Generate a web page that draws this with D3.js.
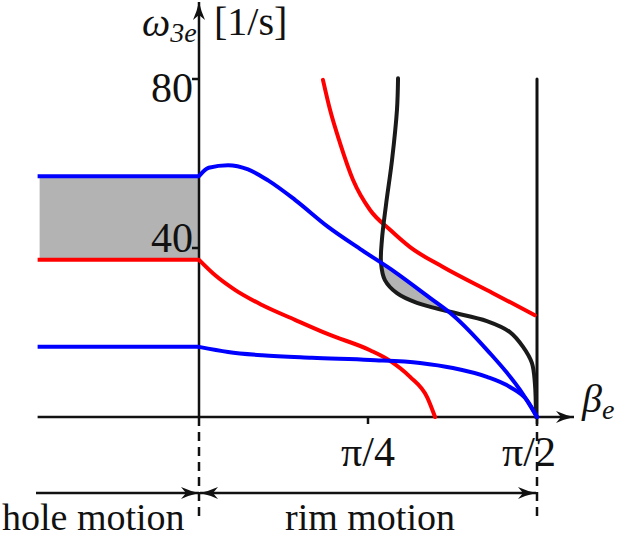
<!DOCTYPE html>
<html>
<head>
<meta charset="utf-8">
<script src="https://cdn.jsdelivr.net/npm/d3@7"></script>
<style>
  body { margin: 0; background: #fff; }
  text { font-family: "Liberation Serif", "DejaVu Serif", serif; fill: #111; }
</style>
</head>
<body>
<div id="chart"></div>
<script>
// hole motion: constant levels for beta < 0
var holeBeta = [-0.75, 0];
var holeBlueHigh = 57.0;
var holeRed = 37.2;
var holeBlueLow = 16.6;

// rim motion curves [beta, omega]
var blueHigh = [[0, 57.0], [0.045, 59.0], [0.135, 59.6], [0.228, 58.6], [0.321, 56.0], [0.446, 51.4],
    [0.600, 45.0], [0.757, 39.5], [0.911, 34.3], [1.073, 28.2], [1.180, 24.1], [1.338, 15.9],
    [1.492, 6.4], [Math.PI / 2, 0]];
var redHigh = [[0.576, 79.8], [0.609, 72.7], [0.655, 64.9], [0.716, 56.1], [0.795, 49.0], [0.888, 44.3],
    [0.981, 40.2], [1.134, 35.5], [1.366, 29.3], [1.561, 24.1]];
var redLow = [[0, 37.2], [0.074, 33.6], [0.167, 30.1], [0.293, 26.5], [0.446, 23.0], [0.600, 19.6],
    [0.795, 15.8], [0.888, 13.3], [0.981, 9.5], [1.060, 4.7], [1.097, 0]];
var blueLow = [[0, 16.6], [0.135, 15.4], [0.293, 14.6], [0.525, 14.0], [0.795, 13.5], [1.027, 12.8],
    [1.180, 11.6], [1.338, 9.5], [1.445, 7.1], [1.524, 4.0], [Math.PI / 2, 0]];
var blackCurve = [[0.925, 80.2], [0.920, 72.7], [0.897, 60.8], [0.869, 50.2], [0.850, 41.9], [0.846, 36.4],
    [0.864, 32.4], [0.920, 29.3], [1.013, 27.0], [1.166, 24.9], [1.338, 22.7], [1.445, 20.1],
    [1.506, 16.6], [1.547, 12.8], [1.561, 8.0], [1.566, 0]];
// grey pocket between black curve and blue curve
var pocketBlack = [[0.846, 36.6], [0.864, 32.4], [0.920, 29.3], [1.013, 27.0], [1.17, 24.7]];
var pocketBlue = [[1.17, 24.7], [1.073, 28.2], [0.911, 34.3], [0.846, 36.6]];
var rimLimit = [[Math.PI / 2, 0], [Math.PI / 2, 80]];

var yTicks = [40, 80];
var xTicks = [Math.PI / 4, Math.PI / 2];
var xTickLabels = ['π/4', 'π/2'];

var width = 621, height = 540;
var x = d3.scaleLinear().domain([0, Math.PI / 2]).range([199, 537]);
var y = d3.scaleLinear().domain([0, 80]).range([417, 79]);

var svg = d3.select('#chart').append('svg')
    .attr('width', width)
    .attr('height', height);

var defs = svg.append('defs');
defs.append('marker')
    .attr('id', 'head')
    .attr('viewBox', '0 -6 18 12')
    .attr('refX', 18).attr('refY', 0)
    .attr('markerWidth', 18).attr('markerHeight', 12)
    .attr('markerUnits', 'userSpaceOnUse')
    .attr('orient', 'auto-start-reverse')
    .append('path')
    .attr('d', 'M0,-6 Q9,-2 18,0 Q9,2 0,6 L5,0 Z')
    .attr('fill', '#111');

var smooth = d3.line().x(d => x(d[0])).y(d => y(d[1])).curve(d3.curveMonotoneX);
var line = d3.line().x(d => x(d[0])).y(d => y(d[1])).curve(d3.curveCatmullRom.alpha(0.5));
var flat = d3.line().x(d => x(d[0])).y(d => y(d[1]));

// grey bands
svg.append('rect')
    .attr('x', x(holeBeta[0]) + 2)
    .attr('y', y(holeBlueHigh))
    .attr('width', x(holeBeta[1]) - x(holeBeta[0]) - 2)
    .attr('height', y(holeRed) - y(holeBlueHigh))
    .attr('fill', '#b3b3b3');

svg.append('path')
    .attr('d', line(pocketBlack) + flat(pocketBlue).replace(/^M/, 'L') + 'Z')
    .attr('fill', '#b3b3b3');

// axes
var ax = svg.append('g').attr('stroke', '#111').attr('stroke-width', 2.5).attr('fill', 'none');
ax.append('line')
    .attr('x1', x(holeBeta[0])).attr('x2', 574)
    .attr('y1', y(0)).attr('y2', y(0))
    .attr('marker-end', 'url(#head)');
ax.append('line')
    .attr('x1', x(0)).attr('x2', x(0))
    .attr('y1', y(0)).attr('y2', 2)
    .attr('marker-end', 'url(#head)');

// dashed separators
ax.selectAll('.sep')
    .data([0, Math.PI / 2])
    .enter().append('line')
    .attr('x1', d => x(d)).attr('x2', d => x(d))
    .attr('y1', y(0)).attr('y2', 520)
    .attr('stroke-dasharray', '9,6');

// ticks
ax.selectAll('.yt')
    .data(yTicks)
    .enter().append('line')
    .attr('x1', x(0) - 7).attr('x2', x(0))
    .attr('y1', d => y(d)).attr('y2', d => y(d));
ax.selectAll('.xt')
    .data(xTicks)
    .enter().append('line')
    .attr('x1', d => x(d)).attr('x2', d => x(d))
    .attr('y1', y(0)).attr('y2', y(0) + 7);

svg.selectAll('.ytl')
    .data(yTicks)
    .enter().append('text')
    .attr('x', x(0) - 6)
    .attr('y', d => d === 80 ? y(d) + 23 : y(d) + 4)
    .attr('text-anchor', 'end')
    .attr('font-size', 42)
    .text(d => d);

svg.selectAll('.xtl')
    .data(xTicks)
    .enter().append('text')
    .attr('x', (d, i) => x(d) - (i === 1 ? 8 : 0))
    .attr('y', y(0) + 49)
    .attr('text-anchor', 'middle')
    .attr('font-size', 42)
    .text((d, i) => xTickLabels[i]);

// axis titles
var yt = svg.append('text').attr('x', 142).attr('y', 36).attr('font-size', 40);
yt.append('tspan').attr('font-style', 'italic').text('ω');
yt.append('tspan').attr('font-style', 'italic').attr('font-size', 28).attr('dy', 6).text('3e');
svg.append('text').attr('x', 214).attr('y', 35).attr('font-size', 40).text('[1/s]');

var xt = svg.append('text').attr('x', 582).attr('y', 412).attr('font-size', 40);
xt.append('tspan').attr('font-style', 'italic').text('β');
xt.append('tspan').attr('font-style', 'italic').attr('font-size', 28).attr('dy', 7).text('e');

// curves
var curves = svg.append('g').attr('fill', 'none').attr('stroke-width', 4).attr('stroke-linecap', 'round');
[[holeBlueHigh, '#0000ff'], [holeRed, '#ff0000'], [holeBlueLow, '#0000ff']].forEach(function (h) {
    curves.append('path')
        .attr('d', flat(holeBeta.map(b => [b, h[0]])))
        .attr('stroke', h[1])
        .attr('stroke-linecap', 'butt');
});
curves.append('path').attr('d', flat(rimLimit)).attr('stroke', '#111').attr('stroke-width', 3);
curves.append('path').attr('d', smooth(redLow)).attr('stroke', '#ff0000');
curves.append('path').attr('d', smooth(redHigh)).attr('stroke', '#ff0000');
curves.append('path').attr('d', line(blackCurve)).attr('stroke', '#1a1a1a');
curves.append('path').attr('d', smooth(blueLow)).attr('stroke', '#0000ff');
curves.append('path').attr('d', smooth(blueHigh)).attr('stroke', '#0000ff');

// motion ranges
var rg = svg.append('g').attr('stroke', '#111').attr('stroke-width', 2.5);
rg.append('line')
    .attr('x1', 36).attr('x2', x(0))
    .attr('y1', 493).attr('y2', 493)
    .attr('marker-end', 'url(#head)');
rg.append('line')
    .attr('x1', x(0) + 1).attr('x2', x(Math.PI / 2) - 1)
    .attr('y1', 493).attr('y2', 493)
    .attr('marker-start', 'url(#head)')
    .attr('marker-end', 'url(#head)');

svg.append('text').attr('x', 2).attr('y', 530).attr('font-size', 38).text('hole motion');
svg.append('text').attr('x', 285).attr('y', 530).attr('font-size', 38).text('rim motion');
</script>
</body>
</html>
